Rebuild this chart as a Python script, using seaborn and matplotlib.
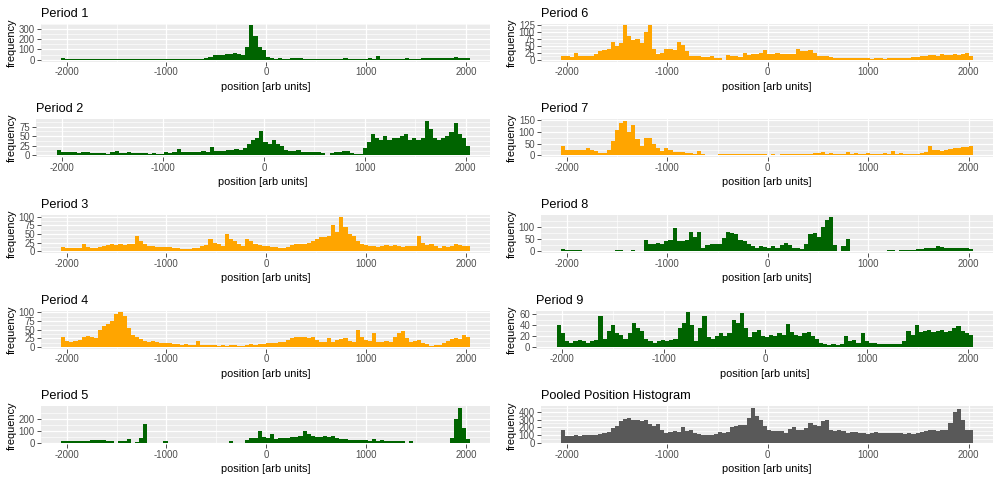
import numpy as np
import pandas as pd
import matplotlib
matplotlib.use("Agg")
import matplotlib.pyplot as plt
import seaborn as sns

# position bins shared by every panel (41 units wide, -2055 .. 2045)
bin_edges = np.linspace(-2055, 2045, 101)
bin_centers = (bin_edges[:-1] + bin_edges[1:]) / 2

# bar heights, one value per bin
period_1 = [15, 10, 10, 8, 10, 10, 12, 10, 10, 8,
            10, 12, 10, 10, 8, 10, 10, 10, 10, 12,
            10, 10, 8, 10, 10, 8, 10, 10, 12, 10,
            10, 10, 12, 10, 12, 15, 30, 45, 50, 45,
            55, 60, 70, 60, 50, 120, 335, 230, 120, 95,
            25, 15, 12, 15, 12, 12, 15, 20, 15, 12,
            12, 10, 10, 12, 10, 10, 10, 12, 10, 15,
            12, 10, 12, 10, 10, 15, 12, 35, 12, 10,
            12, 10, 10, 12, 15, 10, 8, 12, 15, 15,
            18, 20, 20, 18, 22, 20, 25, 20, 22, 20]
period_2 = [15, 10, 8, 8, 8, 6, 8, 8, 6, 6,
            6, 6, 5, 10, 12, 6, 6, 8, 6, 6,
            6, 6, 5, 6, 5, 3, 8, 6, 8, 18,
            8, 8, 10, 8, 10, 12, 10, 22, 12, 12,
            12, 15, 15, 18, 15, 20, 30, 40, 45, 65,
            35, 30, 40, 30, 25, 15, 12, 12, 15, 10,
            10, 10, 8, 10, 6, 0, 6, 8, 8, 12,
            12, 6, 4, 4, 20, 35, 55, 45, 40, 50,
            40, 45, 45, 50, 55, 40, 45, 40, 45, 90,
            70, 45, 40, 45, 50, 60, 85, 55, 45, 25]
period_3 = [12, 8, 8, 8, 10, 22, 12, 8, 10, 12,
            15, 18, 20, 18, 20, 18, 20, 22, 45, 30,
            20, 15, 15, 12, 12, 12, 12, 8, 8, 6,
            5, 6, 8, 10, 15, 18, 35, 25, 20, 15,
            50, 35, 30, 20, 15, 35, 30, 20, 18, 15,
            15, 12, 12, 10, 10, 12, 18, 20, 20, 22,
            25, 30, 35, 40, 40, 45, 75, 55, 100, 70,
            50, 45, 30, 20, 18, 15, 15, 12, 15, 18,
            15, 18, 15, 12, 15, 15, 15, 45, 25, 18,
            20, 15, 10, 15, 12, 15, 20, 18, 15, 15]
period_4 = [28, 18, 15, 18, 20, 30, 32, 28, 25, 50,
            60, 65, 75, 95, 100, 90, 55, 35, 28, 22,
            18, 15, 18, 15, 12, 10, 10, 8, 8, 6,
            8, 5, 6, 18, 5, 5, 6, 4, 3, 5,
            2, 5, 6, 3, 2, 6, 8, 6, 8, 8,
            10, 10, 12, 15, 15, 20, 25, 28, 30, 30,
            25, 28, 20, 15, 15, 25, 15, 20, 22, 25,
            18, 15, 50, 30, 20, 18, 40, 15, 15, 18,
            15, 30, 40, 45, 25, 15, 18, 20, 12, 8,
            3, 5, 5, 10, 18, 22, 25, 22, 35, 30]
period_5 = [15, 12, 12, 10, 12, 15, 15, 18, 20, 25,
            20, 15, 12, 0, 10, 12, 30, 0, 8, 40,
            160, 0, 0, 0, 0, 10, 0, 0, 0, 0,
            0, 0, 0, 0, 0, 0, 0, 0, 0, 0,
            0, 10, 0, 0, 0, 20, 35, 40, 95, 45,
            35, 70, 30, 35, 40, 35, 45, 50, 55, 100,
            70, 55, 50, 50, 55, 45, 55, 40, 30, 30,
            25, 20, 20, 25, 20, 15, 30, 15, 20, 10,
            10, 12, 10, 10, 0, 15, 0, 0, 0, 0,
            0, 0, 0, 0, 0, 40, 200, 290, 120, 30]
period_6 = [12, 12, 10, 25, 12, 15, 12, 15, 22, 30,
            35, 40, 65, 50, 60, 125, 85, 70, 75, 60,
            100, 125, 40, 20, 25, 38, 38, 35, 65, 55,
            30, 15, 12, 12, 10, 10, 12, 5, 5, 0,
            18, 12, 12, 10, 25, 18, 20, 22, 25, 35,
            22, 20, 25, 22, 20, 20, 22, 40, 30, 32,
            35, 25, 15, 15, 12, 10, 8, 6, 8, 6,
            6, 5, 6, 5, 5, 2, 5, 5, 3, 6,
            5, 5, 6, 8, 8, 10, 10, 15, 15, 18,
            18, 15, 20, 18, 18, 20, 18, 22, 25, 15]
period_7 = [40, 22, 22, 25, 22, 25, 30, 22, 18, 10,
            12, 25, 60, 110, 140, 148, 100, 130, 70, 40,
            75, 75, 50, 30, 20, 30, 25, 15, 15, 15,
            10, 10, 8, 20, 8, 0, 0, 0, 5, 5,
            6, 8, 6, 8, 5, 6, 5, 8, 6, 5,
            3, 5, 2, 6, 8, 6, 8, 5, 8, 6,
            8, 10, 10, 15, 8, 10, 6, 8, 8, 15,
            8, 10, 6, 8, 10, 8, 6, 8, 10, 8,
            20, 8, 10, 6, 8, 5, 5, 10, 15, 40,
            25, 22, 20, 25, 28, 30, 32, 35, 35, 40]
period_8 = [8, 3, 4, 5, 3, 0, 2, 0, 0, 0,
            0, 0, 0, 3, 3, 0, 0, 3, 0, 0,
            45, 30, 30, 35, 30, 40, 45, 95, 40, 40,
            45, 80, 60, 80, 15, 25, 30, 28, 30, 55,
            80, 75, 70, 45, 40, 30, 20, 15, 20, 18,
            15, 20, 15, 25, 35, 25, 12, 12, 8, 30,
            70, 75, 60, 100, 130, 142, 25, 0, 20, 50,
            0, 0, 0, 0, 0, 0, 0, 0, 0, 3,
            3, 0, 4, 4, 3, 5, 8, 10, 12, 15,
            15, 20, 18, 15, 14, 15, 12, 12, 12, 10]
period_9 = [40, 25, 10, 8, 10, 12, 10, 8, 10, 12,
            58, 15, 30, 40, 25, 22, 15, 25, 45, 35,
            30, 15, 10, 8, 10, 12, 10, 12, 15, 35,
            45, 64, 40, 10, 35, 58, 18, 15, 20, 25,
            20, 25, 50, 45, 62, 35, 18, 28, 32, 20,
            18, 22, 20, 25, 22, 42, 28, 22, 20, 25,
            28, 20, 15, 8, 6, 4, 5, 4, 6, 20,
            10, 12, 8, 25, 10, 8, 8, 6, 5, 6,
            5, 6, 6, 10, 30, 22, 40, 28, 30, 32,
            28, 30, 32, 28, 30, 35, 38, 30, 25, 22]
pooled = [170, 90, 85, 95, 90, 100, 100, 105, 100, 110,
          120, 140, 190, 220, 280, 310, 320, 300, 290, 280,
          300, 240, 220, 240, 170, 130, 140, 150, 140, 200,
          150, 160, 130, 110, 100, 105, 100, 110, 140, 130,
          140, 200, 220, 230, 230, 320, 450, 350, 300, 220,
          160, 150, 150, 150, 130, 180, 200, 160, 170, 190,
          250, 230, 210, 280, 300, 160, 150, 160, 150, 120,
          140, 140, 130, 120, 110, 120, 140, 130, 120, 120,
          130, 130, 120, 110, 120, 110, 120, 140, 150, 160,
          160, 150, 160, 170, 250, 400, 440, 300, 170, 170]

panel_titles = ["Period 1", "Period 2", "Period 3", "Period 4", "Period 5",
                "Period 6", "Period 7", "Period 8", "Period 9",
                "Pooled Position Histogram"]
panel_counts = [period_1, period_2, period_3, period_4, period_5,
                period_6, period_7, period_8, period_9, pooled]
panel_yticks = [[0, 100, 200, 300], [0, 25, 50, 75], [0, 25, 50, 75, 100],
                [0, 25, 50, 75, 100], [0, 100, 200],
                [0, 25, 50, 75, 100, 125], [0, 50, 100, 150], [0, 50, 100],
                [0, 20, 40, 60], [0, 100, 200, 300, 400]]
x_ticks = [-2000, -1000, 0, 1000, 2000]

GREEN = "#006400"
ORANGE = "#FFA500"
GREY = "#595959"
panel_colors = [GREEN, GREEN, ORANGE, ORANGE, GREEN,
                ORANGE, ORANGE, GREEN, GREEN, GREY]

# ggplot2 theme_gray look
sns.set_theme(style="darkgrid", rc={
    "axes.facecolor": "#EBEBEB",
    "grid.color": "white",
    "figure.facecolor": "white",
})
plt.rcParams["font.family"] = ["Liberation Sans", "DejaVu Sans"]

W, HT = 1000, 480


def minor_breaks(ticks, lo, hi):
    step = ticks[1] - ticks[0]
    cand = [ticks[0] - step / 2] + [t + step / 2 for t in ticks]
    return [c for c in cand if lo <= c <= hi]


fig = plt.figure(figsize=(10, 4.8), dpi=100)

for i, (title, counts, color, yticks) in enumerate(
        zip(panel_titles, panel_counts, panel_colors, panel_yticks)):
    col, row = divmod(i, 5)
    narrow = len(str(max(yticks))) <= 2
    left = (36 if narrow else 40.7) + 500 * col
    right = 490 if col == 0 else 993
    top = 23.5 + 95.7 * row
    h = 38
    ax = fig.add_axes([left / W, 1 - (top + h) / HT, (right - left) / W, h / HT])

    df = pd.DataFrame({"position": bin_centers, "count": counts})
    sns.histplot(data=df, x="position", weights="count", bins=bin_edges.tolist(),
                 color=color, alpha=1, linewidth=0, edgecolor="none", ax=ax)

    ymax = max(counts)
    ax.set_ylim(-0.05 * ymax, 1.05 * ymax)
    ax.set_xlim(-2260, 2242)

    ax.set_xticks(x_ticks)
    ax.set_xticklabels([str(t) for t in x_ticks])
    ax.set_xticks(minor_breaks(x_ticks, -2260, 2242), minor=True)
    ax.set_yticks(yticks)
    ax.set_yticklabels([str(t) for t in yticks])
    ax.set_yticks(minor_breaks(yticks, -0.05 * ymax, 1.05 * ymax), minor=True)

    ax.grid(which="major", color="white", linewidth=0.9)
    ax.grid(which="minor", color="white", linewidth=0.45)
    ax.set_axisbelow(True)
    for s in ax.spines.values():
        s.set_visible(False)
    ax.tick_params(which="major", direction="out", length=2.7, width=0.6,
                   color="#333333", labelsize=6.9, labelcolor="#4D4D4D", pad=1.5,
                   bottom=True, left=True)
    ax.tick_params(which="minor", length=0)

    ax.set_title(title, loc="left", fontsize=9.2, color="black", pad=5)
    ax.set_xlabel("position [arb units]", fontsize=7.9, color="black", labelpad=3)
    ax.set_ylabel("frequency", fontsize=7.9, color="black")
    ax.yaxis.set_label_coords((16.7 + 500 * col) / W, 1 - (top + h / 2) / HT,
                              transform=fig.transFigure)

plt.savefig("out.png", dpi=100, facecolor="white")
